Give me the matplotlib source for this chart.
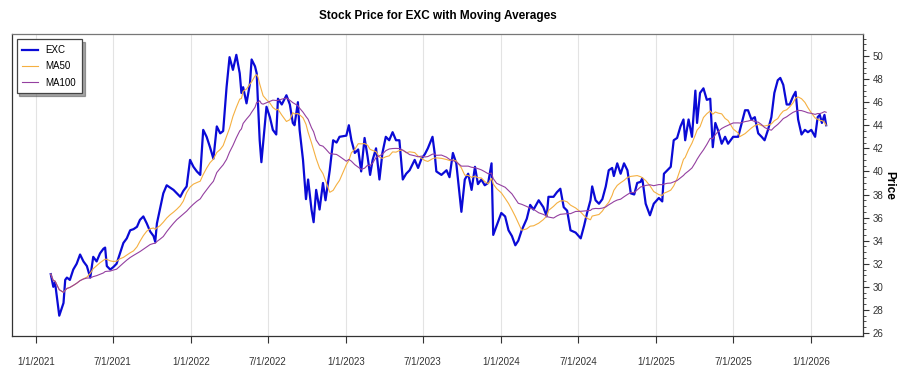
import matplotlib
matplotlib.use("Agg")
import matplotlib.pyplot as plt
import matplotlib.dates as mdates
from matplotlib.ticker import MultipleLocator, FuncFormatter
import pandas as pd

# ---------------- data ----------------
dates = [
    "2021-02-05", "2021-02-11", "2021-02-15", "2021-02-25", "2021-03-07", "2021-03-11", "2021-03-15",
    "2021-03-22", "2021-03-30", "2021-04-07", "2021-04-15", "2021-04-23", "2021-05-01", "2021-05-09",
    "2021-05-16", "2021-05-24", "2021-06-01", "2021-06-09", "2021-06-13", "2021-06-17", "2021-06-25",
    "2021-07-02", "2021-07-10", "2021-07-18", "2021-07-26", "2021-08-03", "2021-08-11", "2021-08-19",
    "2021-08-27", "2021-09-03", "2021-09-11", "2021-09-19", "2021-09-27", "2021-10-05", "2021-10-09",
    "2021-10-13", "2021-10-20", "2021-10-28", "2021-11-05", "2021-11-13", "2021-11-21", "2021-11-29",
    "2021-12-07", "2021-12-14", "2021-12-22", "2021-12-30", "2022-01-07", "2022-01-15", "2022-01-23",
    "2022-01-30", "2022-02-07", "2022-02-15", "2022-02-23", "2022-03-03", "2022-03-11", "2022-03-18",
    "2022-03-26", "2022-04-02", "2022-04-10", "2022-04-18", "2022-04-26", "2022-04-30", "2022-05-04",
    "2022-05-12", "2022-05-20", "2022-05-24", "2022-06-01", "2022-06-05", "2022-06-08", "2022-06-12",
    "2022-06-16", "2022-06-20", "2022-06-28", "2022-07-06", "2022-07-13", "2022-07-21", "2022-07-25",
    "2022-08-03", "2022-08-14", "2022-08-22", "2022-08-29", "2022-09-02", "2022-09-10", "2022-09-14",
    "2022-09-22", "2022-09-29", "2022-10-04", "2022-10-12", "2022-10-17", "2022-10-23", "2022-10-31",
    "2022-11-08", "2022-11-14", "2022-11-24", "2022-12-02", "2022-12-10", "2022-12-17", "2023-01-02",
    "2023-01-08", "2023-01-14", "2023-01-22", "2023-01-30", "2023-02-06", "2023-02-14", "2023-02-21",
    "2023-02-27", "2023-03-05", "2023-03-13", "2023-03-21", "2023-03-28", "2023-04-05", "2023-04-13",
    "2023-04-21", "2023-04-29", "2023-05-07", "2023-05-15", "2023-05-23", "2023-05-31", "2023-06-12",
    "2023-06-20", "2023-06-28", "2023-07-06", "2023-07-13", "2023-07-24", "2023-07-29", "2023-08-02",
    "2023-08-14", "2023-08-26", "2023-09-02", "2023-09-10", "2023-09-18", "2023-09-30", "2023-10-08",
    "2023-10-16", "2023-10-24", "2023-11-01", "2023-11-08", "2023-11-16", "2023-11-24", "2023-12-02",
    "2023-12-10", "2023-12-14", "2023-12-22", "2024-01-02", "2024-01-11", "2024-01-19", "2024-01-27",
    "2024-02-04", "2024-02-11", "2024-02-19", "2024-03-02", "2024-03-10", "2024-03-18", "2024-03-30",
    "2024-04-10", "2024-04-18", "2024-04-22", "2024-05-04", "2024-05-12", "2024-05-20", "2024-05-28",
    "2024-06-05", "2024-06-13", "2024-06-25", "2024-07-07", "2024-07-15", "2024-07-22", "2024-07-30",
    "2024-08-03", "2024-08-11", "2024-08-19", "2024-08-27", "2024-09-04", "2024-09-11", "2024-09-19",
    "2024-09-23", "2024-10-01", "2024-10-09", "2024-10-17", "2024-10-25", "2024-11-02", "2024-11-10",
    "2024-11-17", "2024-11-25", "2024-11-29", "2024-12-07", "2024-12-17", "2024-12-26", "2025-01-07",
    "2025-01-15", "2025-01-19", "2025-01-27", "2025-02-04", "2025-02-11", "2025-02-19", "2025-02-27",
    "2025-03-06", "2025-03-10", "2025-03-18", "2025-03-26", "2025-04-03", "2025-04-07", "2025-04-14",
    "2025-04-22", "2025-04-30", "2025-05-08", "2025-05-14", "2025-05-20", "2025-05-27", "2025-06-04",
    "2025-06-12", "2025-06-19", "2025-07-01", "2025-07-13", "2025-07-17", "2025-07-29", "2025-08-05",
    "2025-08-13", "2025-08-21", "2025-08-29", "2025-09-06", "2025-09-13", "2025-09-21", "2025-09-29",
    "2025-10-06", "2025-10-14", "2025-10-20", "2025-10-27", "2025-11-04", "2025-11-11", "2025-11-19",
    "2025-11-25", "2025-12-01", "2025-12-09", "2025-12-17", "2025-12-24", "2026-01-01", "2026-01-10",
    "2026-01-16", "2026-01-21", "2026-01-26", "2026-02-01", "2026-02-05",
]
prices = [
    31.1, 30.0, 30.4, 27.5, 28.6, 30.6, 30.8,
    30.6, 31.5, 32.0, 32.8, 32.2, 31.8, 30.8,
    32.6, 32.2, 32.9, 33.3, 33.4, 31.8, 31.5,
    31.7, 32.0, 32.9, 33.8, 34.2, 34.9, 35.0,
    35.2, 35.8, 36.1, 35.5, 34.8, 34.4, 33.9,
    35.5, 36.7, 38.1, 38.8, 38.6, 38.4, 38.1,
    37.8, 38.3, 38.7, 41.0, 40.4, 40.0, 39.7,
    43.6, 43.0, 42.1, 41.1, 43.9, 43.3, 43.5,
    47.3, 49.9, 48.8, 50.1, 48.5, 46.8, 47.3,
    45.9, 47.6, 49.7, 49.1, 48.5, 45.9, 42.7,
    40.8, 42.4, 45.6, 44.7, 43.6, 43.2, 46.3,
    45.8, 46.6, 45.8, 44.2, 44.0, 46.0, 43.6,
    41.0, 37.6, 39.3, 36.7, 35.6, 38.4, 36.7,
    39.0, 37.5, 40.1, 42.7, 42.5, 43.0, 43.1,
    44.0, 42.7, 41.6, 41.9, 40.0, 42.9, 41.3,
    39.7, 41.0, 42.0, 39.3, 41.6, 43.0, 42.7,
    43.4, 42.7, 42.7, 39.3, 39.8, 40.1, 41.0,
    40.3, 41.1, 41.5, 42.0, 43.0, 41.6, 40.0,
    39.7, 40.1, 39.5, 41.6, 40.7, 36.5, 39.3,
    39.8, 38.4, 40.4, 38.9, 39.3, 38.8, 39.0,
    40.7, 34.5, 35.3, 36.4, 36.1, 34.9, 34.4,
    33.6, 34.0, 34.9, 35.9, 37.1, 36.7, 37.5,
    36.9, 36.1, 37.8, 37.8, 38.2, 38.5, 36.9,
    36.6, 34.9, 34.7, 34.2, 35.3, 36.4, 37.5,
    38.7, 37.5, 37.2, 37.6, 38.7, 40.1, 40.3,
    39.6, 40.7, 39.8, 40.7, 40.1, 38.1, 38.0,
    39.0, 39.1, 39.4, 37.2, 36.2, 37.2, 37.7,
    37.4, 39.8, 40.1, 40.4, 42.7, 42.9, 43.9,
    44.5, 42.7, 44.5, 43.0, 47.0, 44.2, 46.8,
    47.2, 46.2, 46.3, 42.1, 44.2, 43.5, 42.4,
    43.0, 42.4, 43.0, 43.0, 43.6, 45.3, 45.3,
    44.5, 44.7, 43.3, 43.0, 42.7, 43.6, 44.7,
    46.8, 47.9, 48.1, 47.5, 45.8, 45.8, 46.5,
    46.9, 44.5, 43.2, 43.6, 43.4, 43.6, 43.0,
    44.7, 44.9, 44.2, 44.9, 44.0,
]
ticker = "EXC"
ma_windows = {"MA50": "70D", "MA100": "140D"}   # 50 / 100 trading days
x_tick_dates = ["2021-01-01", "2021-07-01", "2022-01-01", "2022-07-01", "2023-01-01", "2023-07-01",
                "2024-01-01", "2024-07-01", "2025-01-01", "2025-07-01", "2026-01-01"]

# ---------------- build ----------------
s = pd.Series(prices, index=pd.to_datetime(dates))
ma50 = s.rolling(ma_windows["MA50"], min_periods=1).mean()
ma100 = s.rolling(ma_windows["MA100"], min_periods=1).mean()

plt.rcParams["font.family"] = ["Liberation Sans", "DejaVu Sans"]

fig = plt.figure(figsize=(9, 3.75), dpi=100)
ax = fig.add_axes([0.013, 0.104, 0.946, 0.8045])

ax.plot(s.index, s.values, color="#0a0ad6", lw=1.6, label=ticker, zorder=3)
ax.plot(ma50.index, ma50.values, color="#f5b041", lw=0.8, label="MA50", zorder=4)
ax.plot(ma100.index, ma100.values, color="#9440a0", lw=0.8, label="MA100", zorder=4)

ax.set_xlim(pd.Timestamp("2020-11-05"), pd.Timestamp("2026-05-03"))
ax.set_ylim(25.74, 51.88)

ticks = pd.to_datetime(x_tick_dates)
ax.set_xticks(ticks)
ax.xaxis.set_major_formatter(FuncFormatter(
    lambda v, p: (lambda d: f"{d.month}/{d.day}/{d.year}")(mdates.num2date(v))))
ax.grid(axis="x", color="#e3e3e3", lw=0.8)
ax.set_axisbelow(True)

ax.yaxis.tick_right()
ax.yaxis.set_label_position("right")
ax.yaxis.set_major_locator(MultipleLocator(2))
ax.yaxis.set_minor_locator(MultipleLocator(0.5))
ax.tick_params(axis="y", which="major", length=4, width=0.8, pad=3, labelsize=7, colors="#333333")
ax.tick_params(axis="y", which="minor", length=2, width=0.6, colors="#333333")
ax.tick_params(axis="x", which="major", length=5, width=0.8, pad=10, labelsize=7, colors="#333333")
ax.tick_params(left=False)
for sp in ax.spines.values():
    sp.set_color("#333333")
    sp.set_linewidth(0.9)
ax.spines["top"].set_color("#777777")

ax.set_ylabel("Price", fontsize=8.5, fontweight="bold", rotation=270, labelpad=8)
ax.set_title("Stock Price for EXC with Moving Averages", fontsize=8.5, fontweight="bold", pad=11)

leg = ax.legend(loc="upper left", fontsize=7, frameon=True, fancybox=False, shadow=True,
                handlelength=1.6, labelspacing=0.65, borderaxespad=0.5, borderpad=0.6)
leg.get_frame().set_edgecolor("#444444")
leg.get_frame().set_linewidth(0.9)

fig.savefig("out.png", dpi=100)
